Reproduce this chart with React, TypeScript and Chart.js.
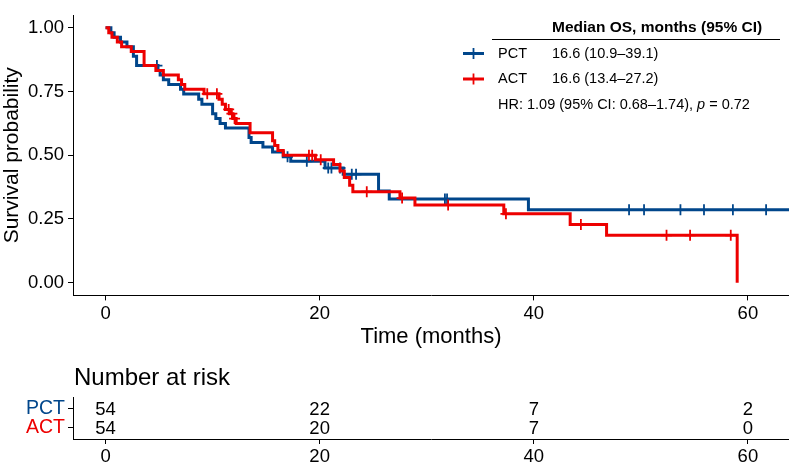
import React, { useEffect, useRef } from "react";
import { Chart, registerables } from "chart.js";

Chart.register(...registerables);

const FONT = "'Liberation Sans', Arial, Helvetica, sans-serif";

// ---------- data ----------
const groupNames = ["PCT", "ACT"];
const groupColors = ["#00468B", "#ED0000"];

// Kaplan–Meier steps: time (months) at which survival drops, survival after the drop
const pctTimes = [0, 0.5, 0.8, 1.4, 2.0, 2.6, 2.9, 4.9, 5.1, 5.4, 5.9, 7.0, 7.3, 8.7, 9.0, 10.0, 10.3, 10.7, 11.2, 13.4, 13.6, 14.7, 15.6, 16.6, 17.3, 20.5, 22.2, 25.5, 26.5, 39.5];
const pctSurv = [1, 0.981, 0.963, 0.944, 0.926, 0.889, 0.852, 0.833, 0.815, 0.796, 0.778, 0.759, 0.74, 0.72, 0.7, 0.663, 0.644, 0.625, 0.607, 0.57, 0.55, 0.532, 0.513, 0.494, 0.476, 0.45, 0.425, 0.36, 0.328, 0.286];
const pctCensor = [4.8, 17.0, 18.8, 20.8, 21.1, 21.9, 23.0, 23.4, 31.7, 31.9, 48.9, 50.3, 53.7, 55.9, 58.6, 61.7];
const pctLastFollowUp = 66;

const actTimes = [0, 0.3, 0.6, 1.1, 1.5, 2.4, 3.6, 4.7, 5.4, 6.8, 7.1, 7.4, 9.2, 10.6, 10.9, 11.2, 11.6, 11.9, 12.2, 13.5, 15.6, 15.8, 16.1, 16.6, 19.6, 21.3, 21.9, 22.3, 22.8, 23.1, 27.5, 28.9, 37.2, 43.4, 46.8, 59.0];
const actSurv = [1, 0.981, 0.963, 0.944, 0.926, 0.907, 0.852, 0.833, 0.815, 0.796, 0.778, 0.759, 0.741, 0.72, 0.7, 0.68, 0.663, 0.644, 0.625, 0.588, 0.557, 0.538, 0.519, 0.5, 0.482, 0.464, 0.438, 0.413, 0.382, 0.357, 0.332, 0.305, 0.27, 0.228, 0.186, 0];
const actCensor = [9.5, 10.4, 11.5, 11.8, 12.05, 19.0, 19.3, 20.1, 24.4, 27.7, 32.0, 37.4, 44.4, 52.4, 54.6, 58.4];
const actLastFollowUp = 59.0;

const medianText = ["16.6 (10.9–39.1)", "16.6 (13.4–27.2)"];
const legendHeader = "Median OS, months (95% CI)";
const hrText = "HR: 1.09 (95% CI: 0.68–1.74), ";
const pText = "p";
const pValueText = " = 0.72";

const xTicks = [0, 20, 40, 60];
const yTicks = [0, 0.25, 0.5, 0.75, 1];
const xMin = -3.04;
const xMax = 63.84;

const riskTimes = [0, 20, 40, 60];
const pctRisk = [54, 22, 7, 2];
const actRisk = [54, 20, 7, 0];
const riskTitle = "Number at risk";

// ---------- helpers ----------
function survAt(times: number[], surv: number[], t: number) {
  let s = surv[0];
  for (let i = 0; i < times.length; i++) if (times[i] <= t) s = surv[i];
  return s;
}
function curve(times: number[], surv: number[], end: number) {
  const pts = times.map((t, i) => ({ x: t, y: surv[i] }));
  if (end > times[times.length - 1]) pts.push({ x: end, y: surv[surv.length - 1] });
  return pts;
}
function censorPts(times: number[], surv: number[], cens: number[]) {
  return cens.map((t) => ({ x: t, y: survAt(times, surv, t) }));
}

const legendPlugin = {
  id: "kmLegend",
  afterDraw(chart: any) {
    const ctx = chart.ctx;
    ctx.save();
    ctx.fillStyle = "#000";
    ctx.textAlign = "left";
    ctx.textBaseline = "middle";
    ctx.font = `bold 15.5px ${FONT}`;
    ctx.fillText(legendHeader, 552, 28);
    ctx.strokeStyle = "#000";
    ctx.lineWidth = 1;
    ctx.beginPath();
    ctx.moveTo(492, 39.5);
    ctx.lineTo(780, 39.5);
    ctx.stroke();
    const rowsY = [53.5, 79];
    groupNames.forEach((g, i) => {
      const y = rowsY[i];
      ctx.strokeStyle = groupColors[i];
      ctx.lineWidth = 3;
      ctx.beginPath();
      ctx.moveTo(463, y);
      ctx.lineTo(484, y);
      ctx.stroke();
      ctx.lineWidth = 1.8;
      ctx.beginPath();
      ctx.moveTo(473.5, y - 5.5);
      ctx.lineTo(473.5, y + 5.5);
      ctx.stroke();
      ctx.fillStyle = "#000";
      ctx.font = `14.5px ${FONT}`;
      ctx.fillText(g, 498, y);
      ctx.fillText(medianText[i], 552, y);
    });
    const y = 105;
    ctx.font = `14.5px ${FONT}`;
    let x = 498;
    ctx.fillText(hrText, x, y);
    x += ctx.measureText(hrText).width;
    ctx.font = `italic 14.5px ${FONT}`;
    ctx.fillText(pText, x, y);
    x += ctx.measureText(pText).width;
    ctx.font = `14.5px ${FONT}`;
    ctx.fillText(pValueText, x, y);
    ctx.restore();
  },
};

const riskPlugin = {
  id: "riskLabels",
  afterDraw(chart: any) {
    const ctx = chart.ctx;
    ctx.save();
    ctx.fillStyle = "#000";
    ctx.textAlign = "left";
    ctx.textBaseline = "alphabetic";
    ctx.font = `24px ${FONT}`;
    ctx.fillText(riskTitle, chart.chartArea.left + 1, 25);
    ctx.font = `18.5px ${FONT}`;
    ctx.textAlign = "center";
    ctx.textBaseline = "middle";
    chart.data.datasets.forEach((ds: any, di: number) => {
      const meta = chart.getDatasetMeta(di);
      meta.data.forEach((el: any, i: number) => {
        ctx.fillText(String(ds.counts[i]), el.x, el.y + 1);
      });
    });
    ctx.restore();
  },
};

export default function App() {
  const mainRef = useRef<HTMLCanvasElement>(null);
  const riskRef = useRef<HTMLCanvasElement>(null);

  useEffect(() => {
    document.body.style.margin = "0";
    const axisCommon = {
      grid: { drawOnChartArea: false, drawTicks: true, tickLength: 5, color: "#000", lineWidth: 1 },
      border: { display: true, color: "#000", width: 1 },
    };
    const main = new Chart(mainRef.current!, {
      type: "scatter",
      data: {
        datasets: [
          {
            data: curve(actTimes, actSurv, actLastFollowUp),
            showLine: true,
            stepped: true,
            borderColor: groupColors[1],
            borderWidth: 3,
            pointRadius: 0,
            fill: false,
          },
          {
            data: censorPts(actTimes, actSurv, actCensor),
            showLine: false,
            pointStyle: "cross",
            pointRadius: 5.5,
            borderColor: groupColors[1],
            backgroundColor: groupColors[1],
            pointBorderWidth: 1.8,
          },
          {
            data: curve(pctTimes, pctSurv, pctLastFollowUp),
            showLine: true,
            stepped: true,
            borderColor: groupColors[0],
            borderWidth: 3,
            pointRadius: 0,
            fill: false,
          },
          {
            data: censorPts(pctTimes, pctSurv, pctCensor),
            showLine: false,
            pointStyle: "cross",
            pointRadius: 5.5,
            borderColor: groupColors[0],
            backgroundColor: groupColors[0],
            pointBorderWidth: 1.8,
          },
        ] as any,
      },
      options: {
        animation: false,
        responsive: true,
        maintainAspectRatio: false,
        layout: { autoPadding: false, padding: { top: 1.65, left: 0, right: 0, bottom: 0 } },
        plugins: { legend: { display: false }, tooltip: { enabled: false } },
        scales: {
          x: {
            type: "linear",
            min: xMin,
            max: xMax,
            afterBuildTicks: (s: any) => {
              s.ticks = xTicks.map((v) => ({ value: v }));
            },
            afterFit: (s: any) => {
              s.height = 64.6;
            },
            ticks: { font: { family: FONT, size: 18.5 }, color: "#000", padding: 2, maxRotation: 0, autoSkip: false },
            title: {
              display: true,
              text: "Time (months)",
              font: { family: FONT, size: 22 },
              color: "#000",
              padding: { top: 0, bottom: 10 },
            },
            ...axisCommon,
          },
          y: {
            type: "linear",
            min: -0.05,
            max: 1.05,
            afterBuildTicks: (s: any) => {
              s.ticks = yTicks.map((v) => ({ value: v }));
            },
            afterFit: (s: any) => {
              s.width = 73;
            },
            ticks: {
              font: { family: FONT, size: 18.5 },
              color: "#000",
              padding: 4,
              callback: (v: any) => Number(v).toFixed(2),
            },
            title: {
              display: true,
              text: "Survival probability",
              font: { family: FONT, size: 21 },
              color: "#000",
              padding: { top: 0, bottom: 0 },
            },
            ...axisCommon,
          },
        },
      } as any,
      plugins: [legendPlugin],
    });

    const risk = new Chart(riskRef.current!, {
      type: "scatter",
      data: {
        datasets: [
          { data: riskTimes.map((t) => ({ x: t, y: 2 })), counts: pctRisk, pointRadius: 0 },
          { data: riskTimes.map((t) => ({ x: t, y: 1 })), counts: actRisk, pointRadius: 0 },
        ] as any,
      },
      options: {
        animation: false,
        responsive: true,
        maintainAspectRatio: false,
        layout: { autoPadding: false, padding: { top: 37, left: 0, right: 0, bottom: 0 } },
        plugins: { legend: { display: false }, tooltip: { enabled: false } },
        scales: {
          x: {
            type: "linear",
            min: xMin,
            max: xMax,
            afterBuildTicks: (s: any) => {
              s.ticks = xTicks.map((v) => ({ value: v }));
            },
            afterFit: (s: any) => {
              s.height = 25;
            },
            ticks: { font: { family: FONT, size: 18.5 }, color: "#000", padding: 2, maxRotation: 0, autoSkip: false },
            ...axisCommon,
          },
          y: {
            type: "linear",
            min: 0.4,
            max: 2.6,
            afterBuildTicks: (s: any) => {
              s.ticks = [{ value: 1 }, { value: 2 }];
            },
            afterFit: (s: any) => {
              s.width = 73;
            },
            ticks: {
              font: { family: FONT, size: 19.5 },
              color: (c: any) => (c.tick && c.tick.value === 2 ? groupColors[0] : groupColors[1]),
              padding: 3,
              callback: (v: any) => (v === 2 ? groupNames[0] : groupNames[1]),
            },
            ...axisCommon,
          },
        },
      } as any,
      plugins: [riskPlugin],
    });

    return () => {
      main.destroy();
      risk.destroy();
    };
  }, []);

  return (
    <div style={{ position: "fixed", left: 0, top: 0, width: 789, height: 464, background: "#fff" }}>
      <div style={{ position: "absolute", left: 0, top: 0, width: 789, height: 360 }}>
        <canvas ref={mainRef} />
      </div>
      <div style={{ position: "absolute", left: 0, top: 360, width: 789, height: 104 }}>
        <canvas ref={riskRef} />
      </div>
    </div>
  );
}
